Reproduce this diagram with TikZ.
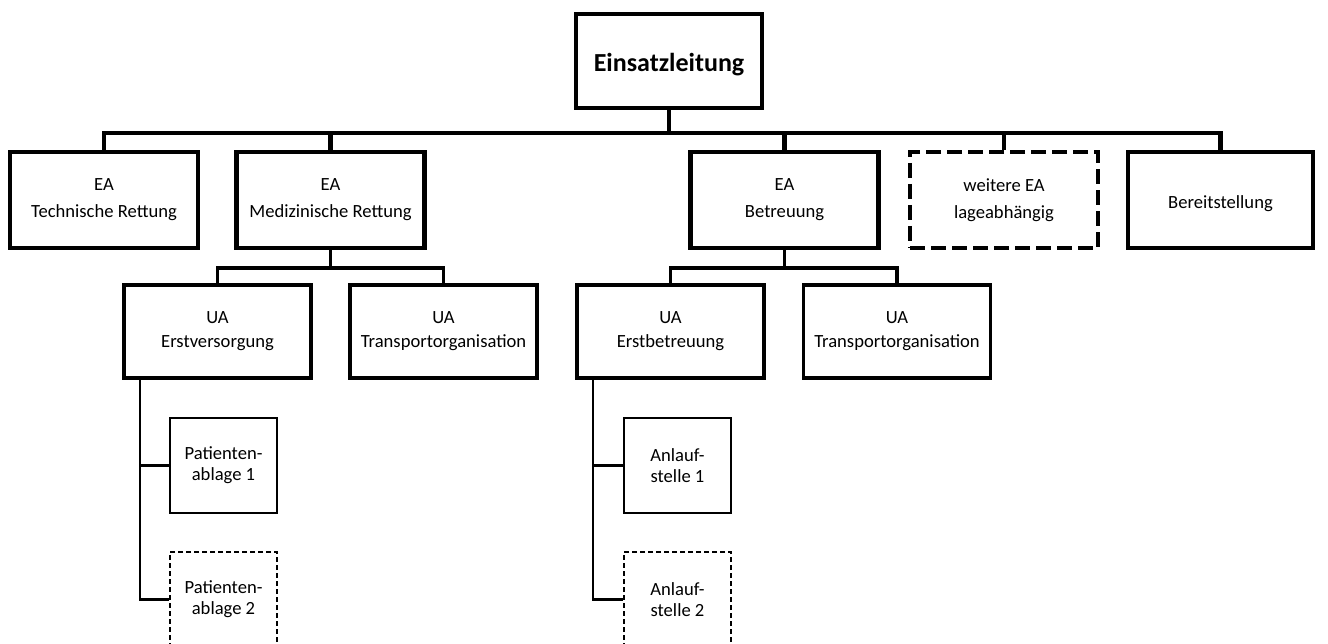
\documentclass[tikz,border=0pt]{standalone}
\usepackage{fontspec}
\setmainfont{Carlito}
\usetikzlibrary{positioning, calc}
\tikzset{
  headbox/.style={rectangle, draw=black, line width=4.8pt, minimum width=186pt, minimum height=94pt, inner sep=0pt, align=center, font=\fontsize{26}{30}\selectfont\bfseries, execute at begin node={\rule{0pt}{25pt}}},
  eabox/.style={rectangle, draw=black, line width=4.8pt, minimum width=188pt, minimum height=96pt, inner sep=0pt, align=center, font=\fontsize{18.6}{27}\selectfont, execute at begin node={\rule{0pt}{20pt}}},
  eadashed/.style={eabox, dash pattern=on 15pt off 6pt},
  uabox/.style={rectangle, draw=black, line width=3.6pt, minimum width=187pt, minimum height=93pt, inner sep=0pt, align=center, font=\fontsize{18.6}{24}\selectfont},
  stellebox/.style={rectangle, draw=black, line width=2.2pt, minimum width=107pt, minimum height=95pt, inner sep=0pt, align=center, font=\fontsize{18.6}{21}\selectfont, execute at begin node={\rule{0pt}{17pt}}},
  stelledashed/.style={stellebox, dash pattern=on 5pt off 3pt},
  bus/.style={line width=4.8pt},
  subbus/.style={line width=3.2pt},
  ast/.style={line width=2.4pt}
}

\begin{document}
\begin{tikzpicture}[x=1pt, y=-1pt]
\clip (0,0) rectangle (1328,644);

% Einsatzleitung
\node[headbox] (el) at (669,61) {Einsatzleitung};

% Einsatzabschnitte
\node[eabox] (tech) at (104,200) {EA\\Technische Rettung};
\node[eabox] (med) at (330.5,200) {EA\\Medizinische Rettung};
\node[eabox] (betr) at (784.5,200) {EA\\Betreuung};
\node[eadashed] (weitere) at (1004,200) {weitere EA\\lageabhängig};
\node[eabox, minimum width=185pt] (bereit) at (1220.5,200) {Bereitstellung};

% Unterabschnitte
\node[uabox] (erstv) at (217.5,331.5) {UA\\Erstversorgung};
\node[uabox] (transA) at (443.5,331.5) {UA\\Transportorganisation};
\node[uabox] (erstb) at (670.5,331.5) {UA\\Erstbetreuung};
\node[uabox] (transB) at (897,331.5) {UA\\Transportorganisation};

% Patientenablagen / Anlaufstellen
\node[stellebox] (pa1) at (223.5,465.5) {Patienten-\\ablage 1};
\node[stelledashed] (pa2) at (223.5,599.5) {Patienten-\\ablage 2};
\node[stellebox] (an1) at (677.5,465.5) {Anlauf-\\stelle 1};
\node[stelledashed] (an2) at (677.5,599.5) {Anlauf-\\stelle 2};

% Verbindungen
\coordinate (busEL) at (669,133);
\coordinate (busMed) at (330.5,268);
\coordinate (busBetr) at (784.5,268);
\coordinate (stammA) at ($(erstv.south west)+(18,0)$);
\coordinate (stammB) at ($(erstb.south west)+(18,0)$);

\draw[bus] (el.south) -- (busEL);
\draw[bus] (tech.north) |- (busEL) -| (bereit.north);
\foreach \n in {med,betr,weitere}
  \draw[bus] (\n.north) -- (\n.north |- busEL);

\draw[subbus] (med.south) -- (busMed);
\draw[subbus] (erstv.north) |- (busMed) -| (transA.north);
\draw[subbus] (betr.south) -- (busBetr);
\draw[subbus] (erstb.north) |- (busBetr) -| (transB.north);

\draw[ast] (stammA) |- (pa2.west);
\draw[ast] (stammA |- pa1.west) -- (pa1.west);
\draw[ast] (stammB) |- (an2.west);
\draw[ast] (stammB |- an1.west) -- (an1.west);

\end{tikzpicture}
\end{document}
